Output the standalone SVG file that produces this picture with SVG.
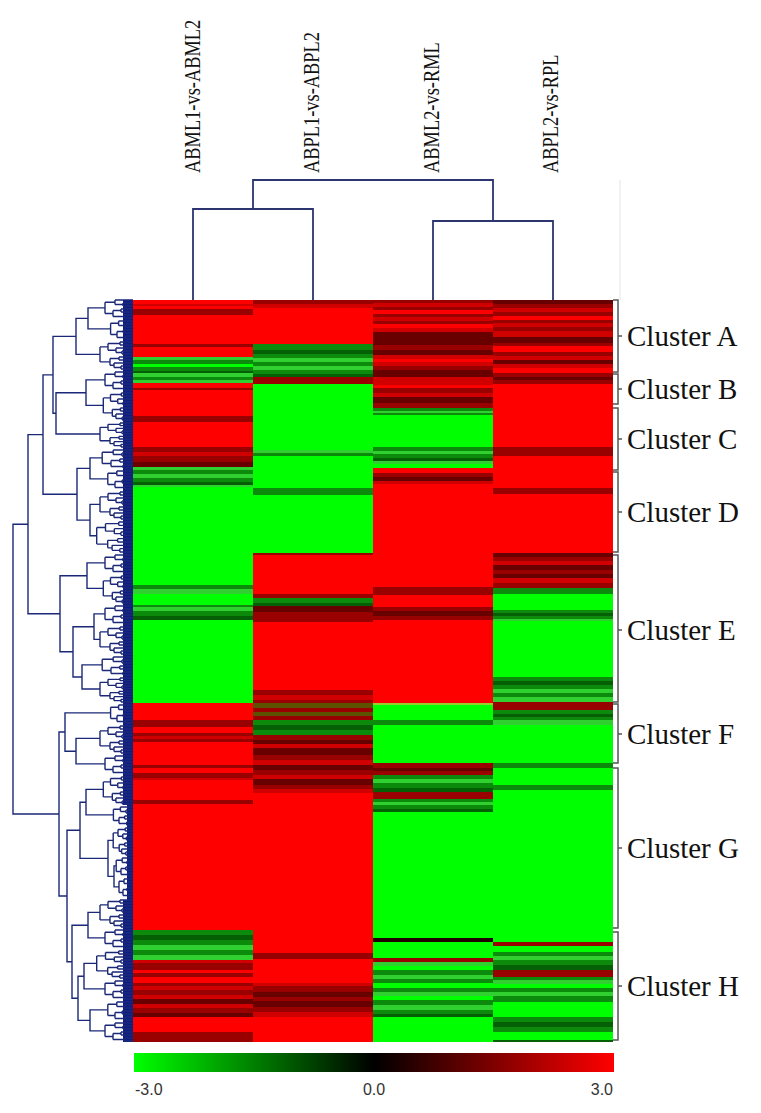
<svg xmlns="http://www.w3.org/2000/svg" xmlns:xlink="http://www.w3.org/1999/xlink" width="761" height="1113" viewBox="0 0 761 1113">
<style>
.dl{fill:none;stroke:#1b2878;stroke-width:1.4}
.td{fill:none;stroke:#2c356f;stroke-width:1.8}
.band{fill:#0f1c80}
.r{fill:#ff0000}.r2{fill:#d00000}.dr{fill:#990000}.dr2{fill:#680000}
.g{fill:#00ff00}.g2{fill:#30d030}.dg{fill:#0b8a0b}.dg2{fill:#056005}
.ol{fill:#5c5200}.ol2{fill:#9acd32}.bk{fill:#200000}
.br{fill:none;stroke:#555;stroke-width:1.5}
.cl{font-family:"Liberation Serif","Times New Roman",serif;font-size:29px;fill:#111}
.hl{font-family:"Liberation Serif","Times New Roman",serif;font-size:18.4px;fill:#111}
.sc{font-family:"Liberation Sans",Arial,sans-serif;font-size:16px;fill:#333}
</style>
<defs>
<path id="tA" vector-effect="non-scaling-stroke" d="M-13,0H0M-13,3H0M-13,0V3M-11,9H0M-11,12H0M-11,9V12M-17,6H0M-17,10.5H-11M-17,6V10.5M-25,1.5V8.25M-25,1.5H-13M-25,8.25H-17M-14,15H0M-14,18H0M-14,15V18M-12,24H0M-12,27H0M-12,24V27M-19,21H0M-19,25.5H-12M-19,21V25.5M-23,16.5V23.25M-23,16.5H-14M-23,23.25H-19M-33,4.9V19.9M-33,4.9H-25M-33,19.9H-23"/>
<path id="tB" vector-effect="non-scaling-stroke" d="M-10,3H0M-10,6H0M-10,3V6M-18,0H0M-18,4.5H-10M-18,0V4.5M-12,9H0M-12,12H0M-12,9V12M-9,15H0M-9,18H0M-9,15V18M-20,10.5V16.5M-20,10.5H-12M-20,16.5H-9M-28,2.25V13.5M-28,2.25H-18M-28,13.5H-20"/>
<linearGradient id="cbar" x1="0" y1="0" x2="1" y2="0">
<stop offset="0" stop-color="#00ff00"/>
<stop offset="0.5" stop-color="#000000"/>
<stop offset="1" stop-color="#ff0000"/>
</linearGradient>
</defs>
<rect width="761" height="1113" fill="#ffffff"/>

<g id="column-labels">
<text class="hl" transform="translate(200,173) rotate(-90) scale(1,1.2)">ABML1-vs-ABML2</text>
<text class="hl" transform="translate(319,173) rotate(-90) scale(1,1.2)">ABPL1-vs-ABPL2</text>
<text class="hl" transform="translate(439,173) rotate(-90) scale(1,1.2)">ABML2-vs-RML</text>
<text class="hl" transform="translate(558,173) rotate(-90) scale(1,1.2)">ABPL2-vs-RPL</text>
</g>

<g id="heatmap">
<g id="col1" transform="translate(133,0)">
<path class="r" d="M0,300H120V1042H0Z"/>
<path class="r2" d="M0,304H120V306H0ZM0,452H120V456H0ZM0,736H120V739H0ZM0,778H120V780H0ZM0,960H120V963H0ZM0,986H120V990H0ZM0,995H120V999H0ZM0,1004H120V1008H0Z"/>
<path class="dr" d="M0,309H120V315H0ZM0,344H120V347H0ZM0,388H120V390H0ZM0,416H120V422H0ZM0,447H120V452H0ZM0,456H120V462H0ZM0,720H120V727H0ZM0,733H120V736H0ZM0,739H120V742H0ZM0,765H120V768H0ZM0,773H120V778H0ZM0,800H120V804H0ZM0,963H120V970H0ZM0,973H120V977H0ZM0,983H120V986H0ZM0,990H120V995H0ZM0,1008H120V1013H0ZM0,1032H120V1042H0Z"/>
<path class="dr2" d="M0,462H120V467H0ZM0,999H120V1004H0ZM0,1013H120V1017H0Z"/>
<path class="g" d="M0,364H120V367H0ZM0,487H120V585H0ZM0,594H120V605H0ZM0,620H120V703H0Z"/>
<path class="g2" d="M0,357H120V360H0ZM0,373H120V377H0ZM0,380H120V383H0ZM0,467H120V470H0ZM0,474H120V478H0ZM0,485H120V487H0ZM0,589H120V594H0ZM0,607H120V611H0ZM0,945H120V950H0ZM0,955H120V960H0Z"/>
<path class="dg" d="M0,360H120V364H0ZM0,367H120V371H0ZM0,377H120V380H0ZM0,470H120V474H0ZM0,478H120V482H0ZM0,585H120V589H0ZM0,605H120V607H0ZM0,611H120V616H0ZM0,930H120V935H0ZM0,940H120V945H0ZM0,950H120V955H0Z"/>
<path class="dg2" d="M0,371H120V373H0ZM0,482H120V485H0ZM0,616H120V620H0ZM0,935H120V940H0Z"/>
</g>
<g id="col2" transform="translate(253,0)">
<path class="r" d="M0,300H120V1042H0Z"/>
<path class="r2" d="M0,304H120V308H0ZM0,695H120V700H0ZM0,744H120V748H0ZM0,760H120V765H0ZM0,775H120V779H0ZM0,789H120V793H0ZM0,983H120V986H0ZM0,1012H120V1017H0Z"/>
<path class="dr" d="M0,300H120V304H0ZM0,377H120V384H0ZM0,553H120V555H0ZM0,594H120V598H0ZM0,612H120V622H0ZM0,690H120V695H0ZM0,700H120V703H0ZM0,708H120V712H0ZM0,716H120V720H0ZM0,735H120V740H0ZM0,755H120V760H0ZM0,770H120V775H0ZM0,785H120V789H0ZM0,953H120V959H0ZM0,986H120V992H0ZM0,997H120V1001H0ZM0,1007H120V1012H0Z"/>
<path class="dr2" d="M0,606H120V612H0ZM0,740H120V744H0ZM0,748H120V755H0ZM0,765H120V770H0ZM0,779H120V785H0ZM0,992H120V997H0ZM0,1001H120V1007H0Z"/>
<path class="ol" d="M0,703H120V708H0ZM0,712H120V716H0Z"/>
<path class="g" d="M0,384H120V450H0ZM0,456H120V488H0ZM0,495H120V553H0Z"/>
<path class="g2" d="M0,358H120V362H0ZM0,366H120V370H0ZM0,450H120V453H0Z"/>
<path class="dg" d="M0,344H120V350H0ZM0,354H120V358H0ZM0,362H120V366H0ZM0,370H120V374H0ZM0,453H120V456H0ZM0,488H120V495H0ZM0,598H120V603H0ZM0,720H120V725H0ZM0,730H120V735H0Z"/>
<path class="dg2" d="M0,350H120V354H0ZM0,374H120V377H0ZM0,603H120V606H0ZM0,725H120V730H0Z"/>
</g>
<g id="col3" transform="translate(373,0)">
<path class="r" d="M0,300H120V1042H0Z"/>
<path class="r2" d="M0,303H120V307H0ZM0,317H120V321H0ZM0,328H120V332H0ZM0,355H120V359H0ZM0,362H120V366H0ZM0,377H120V385H0ZM0,393H120V397H0ZM0,481H120V484H0Z"/>
<path class="dr" d="M0,300H120V303H0ZM0,307H120V310H0ZM0,314H120V317H0ZM0,321H120V324H0ZM0,345H120V350H0ZM0,366H120V370H0ZM0,388H120V393H0ZM0,403H120V408H0ZM0,473H120V477H0ZM0,587H120V595H0ZM0,607H120V611H0ZM0,616H120V620H0ZM0,763H120V768H0ZM0,771H120V775H0ZM0,792H120V799H0ZM0,958H120V962H0Z"/>
<path class="dr2" d="M0,332H120V345H0ZM0,350H120V355H0ZM0,370H120V377H0ZM0,397H120V403H0ZM0,477H120V481H0ZM0,611H120V616H0ZM0,768H120V771H0Z"/>
<path class="g" d="M0,415H120V447H0ZM0,464H120V468H0ZM0,703H120V720H0ZM0,725H120V763H0ZM0,812H120V938H0ZM0,942H120V958H0ZM0,966H120V970H0ZM0,983H120V988H0ZM0,996H120V1000H0ZM0,1017H120V1042H0Z"/>
<path class="g2" d="M0,411H120V413H0ZM0,451H120V454H0ZM0,461H120V464H0ZM0,779H120V783H0ZM0,802H120V805H0ZM0,962H120V966H0ZM0,975H120V979H0ZM0,992H120V996H0ZM0,1005H120V1010H0Z"/>
<path class="dg" d="M0,408H120V411H0ZM0,413H120V415H0ZM0,447H120V451H0ZM0,454H120V458H0ZM0,720H120V725H0ZM0,775H120V779H0ZM0,783H120V788H0ZM0,799H120V802H0ZM0,805H120V809H0ZM0,970H120V975H0ZM0,979H120V983H0ZM0,988H120V992H0ZM0,1000H120V1005H0ZM0,1010H120V1014H0Z"/>
<path class="dg2" d="M0,458H120V461H0ZM0,788H120V792H0ZM0,809H120V812H0ZM0,1014H120V1017H0Z"/>
<path class="ol2" d="M0,703H120V705H0Z"/>
<path class="bk" d="M0,938H120V942H0Z"/>
</g>
<g id="col4" transform="translate(493,0)">
<path class="r" d="M0,300H120V1042H0Z"/>
<path class="r2" d="M0,308H120V312H0ZM0,323H120V327H0ZM0,331H120V337H0ZM0,356H120V360H0ZM0,364H120V368H0ZM0,561H120V565H0ZM0,578H120V583H0Z"/>
<path class="dr" d="M0,304H120V308H0ZM0,312H120V316H0ZM0,320H120V323H0ZM0,327H120V331H0ZM0,343H120V346H0ZM0,352H120V356H0ZM0,373H120V377H0ZM0,380H120V384H0ZM0,447H120V456H0ZM0,488H120V494H0ZM0,557H120V561H0ZM0,570H120V574H0ZM0,583H120V588H0ZM0,702H120V710H0ZM0,942H120V946H0ZM0,970H120V977H0Z"/>
<path class="dr2" d="M0,300H120V304H0ZM0,337H120V343H0ZM0,360H120V364H0ZM0,377H120V380H0ZM0,553H120V557H0ZM0,565H120V570H0ZM0,574H120V578H0Z"/>
<path class="g" d="M0,594H120V610H0ZM0,621H120V677H0ZM0,725H120V763H0ZM0,768H120V785H0ZM0,790H120V942H0ZM0,946H120V952H0ZM0,984H120V988H0ZM0,1002H120V1017H0ZM0,1032H120V1040H0Z"/>
<path class="g2" d="M0,619H120V621H0ZM0,689H120V693H0ZM0,697H120V702H0ZM0,720H120V725H0ZM0,956H120V960H0ZM0,980H120V984H0ZM0,992H120V996H0Z"/>
<path class="dg" d="M0,588H120V594H0ZM0,610H120V613H0ZM0,616H120V619H0ZM0,677H120V681H0ZM0,685H120V689H0ZM0,693H120V697H0ZM0,710H120V714H0ZM0,717H120V720H0ZM0,763H120V768H0ZM0,785H120V790H0ZM0,952H120V956H0ZM0,960H120V965H0ZM0,977H120V980H0ZM0,988H120V992H0ZM0,996H120V1002H0ZM0,1017H120V1022H0ZM0,1027H120V1032H0Z"/>
<path class="dg2" d="M0,613H120V616H0ZM0,681H120V685H0ZM0,714H120V717H0ZM0,965H120V970H0ZM0,1022H120V1027H0ZM0,1040H120V1042H0Z"/>
</g>
</g>

<g id="connectors">
<g id="top-dendrogram">
<path class="td" d="M193,300V209H313V300M433,300V221H553V300M253,209V180H493V221"/>
<path d="M620,180V300" fill="none" stroke="#e4e4e4" stroke-width="1"/>
</g>
<g id="row-dendrogram">
<rect class="band" x="123" y="300" width="10" height="505"/>
<rect class="band" x="127" y="805" width="6" height="95"/>
<rect class="band" x="123" y="900" width="10" height="142"/>
<g class="dl">
<use href="#tB" transform="translate(133,300)"/>
<use href="#tB" transform="translate(133,321) scale(0.8,1)"/>
<use href="#tA" transform="translate(133,342)"/>
<use href="#tB" transform="translate(133,372)"/>
<use href="#tA" transform="translate(133,393) scale(0.9,1)"/>
<use href="#tA" transform="translate(133,423) scale(1,0.889)"/>
<use href="#tB" transform="translate(133,450) scale(1.1,1)"/>
<use href="#tB" transform="translate(133,471) scale(0.9,1)"/>
<use href="#tA" transform="translate(133,492)"/>
<use href="#tA" transform="translate(133,522) scale(1.1,1.111)"/>
<use href="#tB" transform="translate(133,555)"/>
<use href="#tA" transform="translate(133,576) scale(0.9,1)"/>
<use href="#tB" transform="translate(133,606)"/>
<use href="#tA" transform="translate(133,627)"/>
<use href="#tB" transform="translate(133,657) scale(1.1,1)"/>
<use href="#tA" transform="translate(133,678) scale(1,0.889)"/>
<use href="#tB" transform="translate(133,705) scale(0.8,1)"/>
<use href="#tA" transform="translate(133,726)"/>
<use href="#tB" transform="translate(133,756)"/>
<use href="#tA" transform="translate(133,777) scale(0.9,1)"/>
<use href="#tB" transform="translate(133,807) scale(0.7,1)"/>
<use href="#tA" transform="translate(133,828) scale(0.6,1)"/>
<use href="#tB" transform="translate(133,858) scale(0.6,1)"/>
<use href="#tB" transform="translate(133,879) scale(0.5,1)"/>
<use href="#tA" transform="translate(133,900)"/>
<use href="#tB" transform="translate(133,930)"/>
<use href="#tA" transform="translate(133,951) scale(1.1,1)"/>
<use href="#tB" transform="translate(133,981)"/>
<use href="#tB" transform="translate(133,1002) scale(0.9,1)"/>
<use href="#tB" transform="translate(133,1023)"/>
<path d="M105,307.9H88V328.9H110.6M88,318.4H76V354.4H100M105,379.9H86V405.4H103.3M86,392.7H56V434H100M76,336.4H53V413.3H56M102.2,457.9H90V478.9H107.8M100,504.4H90V535.8H96.7M90,468.4H77V520.1H90M53,374.9H43V494.3H77M105,562.9H87V588.4H103.3M105,613.9H94V639.4H100M102.2,664.9H82V689H100M94,626.7H73V677H82M87,575.7H60V651.8H73M43,434.6H28V613.8H60"/>
<path d="M100,738.4H76V763.9H105M110.6,712.9H65V751.2H76M103.3,789.4H86V814.9H113.4M116.2,865.9H114V886.9H119M113.2,840.4H108V876.4H114M86,802.2H80V858.4H108M100,912.4H88V937.9H105M96.7,963.4H84V988.9H105M107.8,1009.9H90V1030.9H105M84,976.2H78V1020.4H90M88,925.2H72V998.3H78M80,830.3H67V961.7H72M65,732H59V896H67M28,524.2H13V814H59"/>
</g>
</g>
</g>

<g id="clusters">
<g id="cluster-a"><path class="br" d="M613,300H618V372H613M618,336H622"/><text class="cl" x="627" y="346">Cluster A</text></g>
<g id="cluster-b"><path class="br" d="M613,374H618V404H613M618,389H622"/><text class="cl" x="627" y="399">Cluster B</text></g>
<g id="cluster-c"><path class="br" d="M613,408H618V470H613M618,439H622"/><text class="cl" x="627" y="449">Cluster C</text></g>
<g id="cluster-d"><path class="br" d="M613,472H618V552H613M618,512H622"/><text class="cl" x="627" y="522">Cluster D</text></g>
<g id="cluster-e"><path class="br" d="M613,555H618V702H613M618,630H622"/><text class="cl" x="627" y="640">Cluster E</text></g>
<g id="cluster-f"><path class="br" d="M613,704H618V763H613M618,734H622"/><text class="cl" x="627" y="744">Cluster F</text></g>
<g id="cluster-g"><path class="br" d="M613,768H618V928H613M618,848H622"/><text class="cl" x="627" y="858">Cluster G</text></g>
<g id="cluster-h"><path class="br" d="M613,932H618V1040H613M618,986H622"/><text class="cl" x="627" y="996">Cluster H</text></g>
</g>

<g id="color-scale">
<rect x="134" y="1053" width="480" height="19" fill="url(#cbar)"/>
<text class="sc" x="135" y="1095">-3.0</text>
<text class="sc" x="374" y="1095" text-anchor="middle">0.0</text>
<text class="sc" x="613" y="1095" text-anchor="end">3.0</text>
</g>
</svg>
